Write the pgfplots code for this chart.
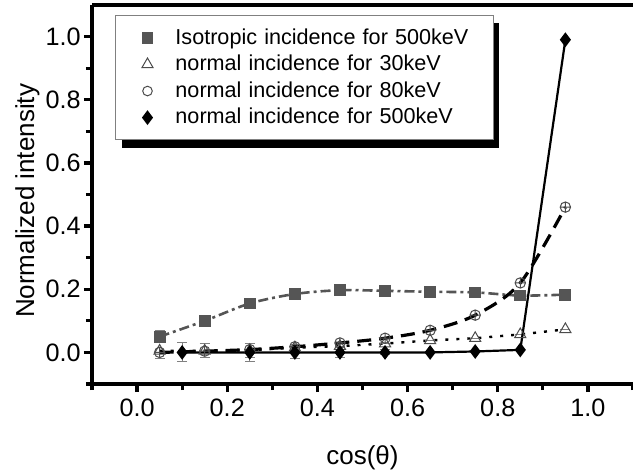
\documentclass[border=0pt]{standalone}
\usepackage{pgfplots}
\pgfplotsset{compat=1.18}
\usepackage{fontspec}
\setmainfont{Liberation Sans}
\usetikzlibrary{shadows}
\definecolor{dgray}{HTML}{555555}
\newcommand{\legbox}{\pgfpathmoveto{\pgfpointorigin}\pgfpathlineto{\pgfpoint{24bp}{0bp}}\pgfusepath{discard}}
\begin{document}
\begin{tikzpicture}
\begin{axis}[
  scale only axis,
  width=270.5bp, height=189.5bp,
  xmin=-0.1, xmax=1.1, ymin=-0.1, ymax=1.1,
  axis x line*=box, axis y line*=left,
  xtick pos=bottom, ytick pos=left,
  tick align=outside,
  xtick={0,0.2,...,1.0}, ytick={0,0.2,...,1.0},
  minor xtick={-0.1,0.1,0.3,0.5,0.7,0.9,1.1},
  minor ytick={-0.1,0.1,0.3,0.5,0.7,0.9},
  major tick length=4bp, minor tick length=3bp,
  every tick/.style={black, line width=1.6bp},
  axis line style={line width=2bp},
  xticklabel style={/pgf/number format/.cd, fixed, fixed zerofill, precision=1},
  yticklabel style={inner xsep=1.5bp, /pgf/number format/.cd, fixed, fixed zerofill, precision=1},
  /pgf/number format/assume math mode=true,
  tick label style={font=\fontsize{12.6bp}{15bp}\selectfont},
  xlabel={cos(θ)}, ylabel={Normalized intensity},
  label style={font=\fontsize{13bp}{15bp}\selectfont},
  xlabel style={yshift=-7.5bp},
  ylabel style={at={(ticklabel cs:0.483)}, yshift=-2bp},
  legend cell align=left,
  legend style={at={(11.5bp,184.5bp)}, anchor=north west,
    draw=gray, line width=0.5bp, fill=white,
    drop shadow={shadow xshift=3bp, shadow yshift=-4bp, fill=black, opacity=1},
    font=\fontsize{10.8bp}{13bp}\selectfont,
    inner xsep=4bp, inner ysep=4.5bp,
    row sep=0bp,
    text width=153bp},
  legend image code/.code={\legbox \draw[#1] plot[only marks] coordinates {(12bp,0bp)};},
  error bars/error bar style={gray, line width=0.5bp},
  error bars/error mark options={rotate=90, mark size=2.5bp, gray, line width=0.5bp},
]
% isotropic 500 keV
\addplot[dgray, line width=1.3bp, dash pattern=on 5bp off 2bp on 1.5bp off 2bp, smooth,
  mark=square*, mark size=2.3bp, mark options={solid, fill=dgray},
  error bars/.cd, y dir=both, y explicit]
 coordinates {
 (0.05,0.050) +- (0,0.018)
 (0.15,0.100) +- (0,0)
 (0.25,0.155) +- (0,0)
 (0.35,0.185) +- (0,0)
 (0.45,0.197) +- (0,0)
 (0.55,0.195) +- (0,0)
 (0.65,0.192) +- (0,0)
 (0.75,0.190) +- (0,0)
 (0.85,0.180) +- (0,0)
 (0.95,0.183) +- (0,0)
 };
\addlegendentry{Isotropic incidence for 500keV}
% normal 30 keV
\addplot[black, line width=1.2bp, dash pattern=on 1.5bp off 4bp,
  mark=triangle, mark size=3.2bp, mark options={solid, draw=black!70, fill=white, line width=0.5bp},
  error bars/.cd, y dir=both, y explicit]
 coordinates {
 (0.05,0.005) +- (0,0.025)
 (0.15,0.005) +- (0,0.022)
 (0.25,0.007) +- (0,0.022)
 (0.35,0.015) +- (0,0.01)
 (0.45,0.020) +- (0,0)
 (0.55,0.028) +- (0,0)
 (0.65,0.038) +- (0,0)
 (0.75,0.045) +- (0,0)
 (0.85,0.057) +- (0,0)
 (0.95,0.073) +- (0,0)
 };
\addlegendentry{normal incidence for 30keV}
% normal 80 keV
\addplot[black, line width=1.6bp, dash pattern=on 7bp off 4bp, smooth,
  mark=oplus, mark size=2.6bp, mark options={solid, draw=black!70, fill=white, line width=0.5bp},
  legend image code/.code={\legbox \draw[black!70, line width=0.5bp] plot[only marks, mark=o, mark size=2.4bp] coordinates {(12bp,0bp)};}]
 coordinates {
 (0.05,0.000)
 (0.15,0.004)
 (0.25,0.009)
 (0.35,0.018)
 (0.45,0.030)
 (0.55,0.045)
 (0.65,0.070)
 (0.75,0.118)
 (0.85,0.220)
 (0.95,0.460)
 };
\addlegendentry{normal incidence for 80keV}
% normal 500 keV
\addplot[black, line width=1.1bp,
  mark=diamond*, mark size=2.8bp, mark options={solid, fill=black},
  error bars/.cd, y dir=both, y explicit]
 coordinates {
 (0.10,0.000) +- (0,0.03)
 (0.25,0.000) +- (0,0.028)
 (0.35,0.000) +- (0,0.018)
 (0.45,0.000) +- (0,0.015)
 (0.55,0.000) +- (0,0.008)
 (0.65,0.000) +- (0,0)
 (0.75,0.003) +- (0,0)
 (0.85,0.008) +- (0,0)
 (0.95,0.990) +- (0,0)
 };
\addlegendentry{normal incidence for 500keV}
\end{axis}
\pgfresetboundingbox
\path (-46bp,-43bp) rectangle (270.5bp,192bp);
\end{tikzpicture}
\end{document}
